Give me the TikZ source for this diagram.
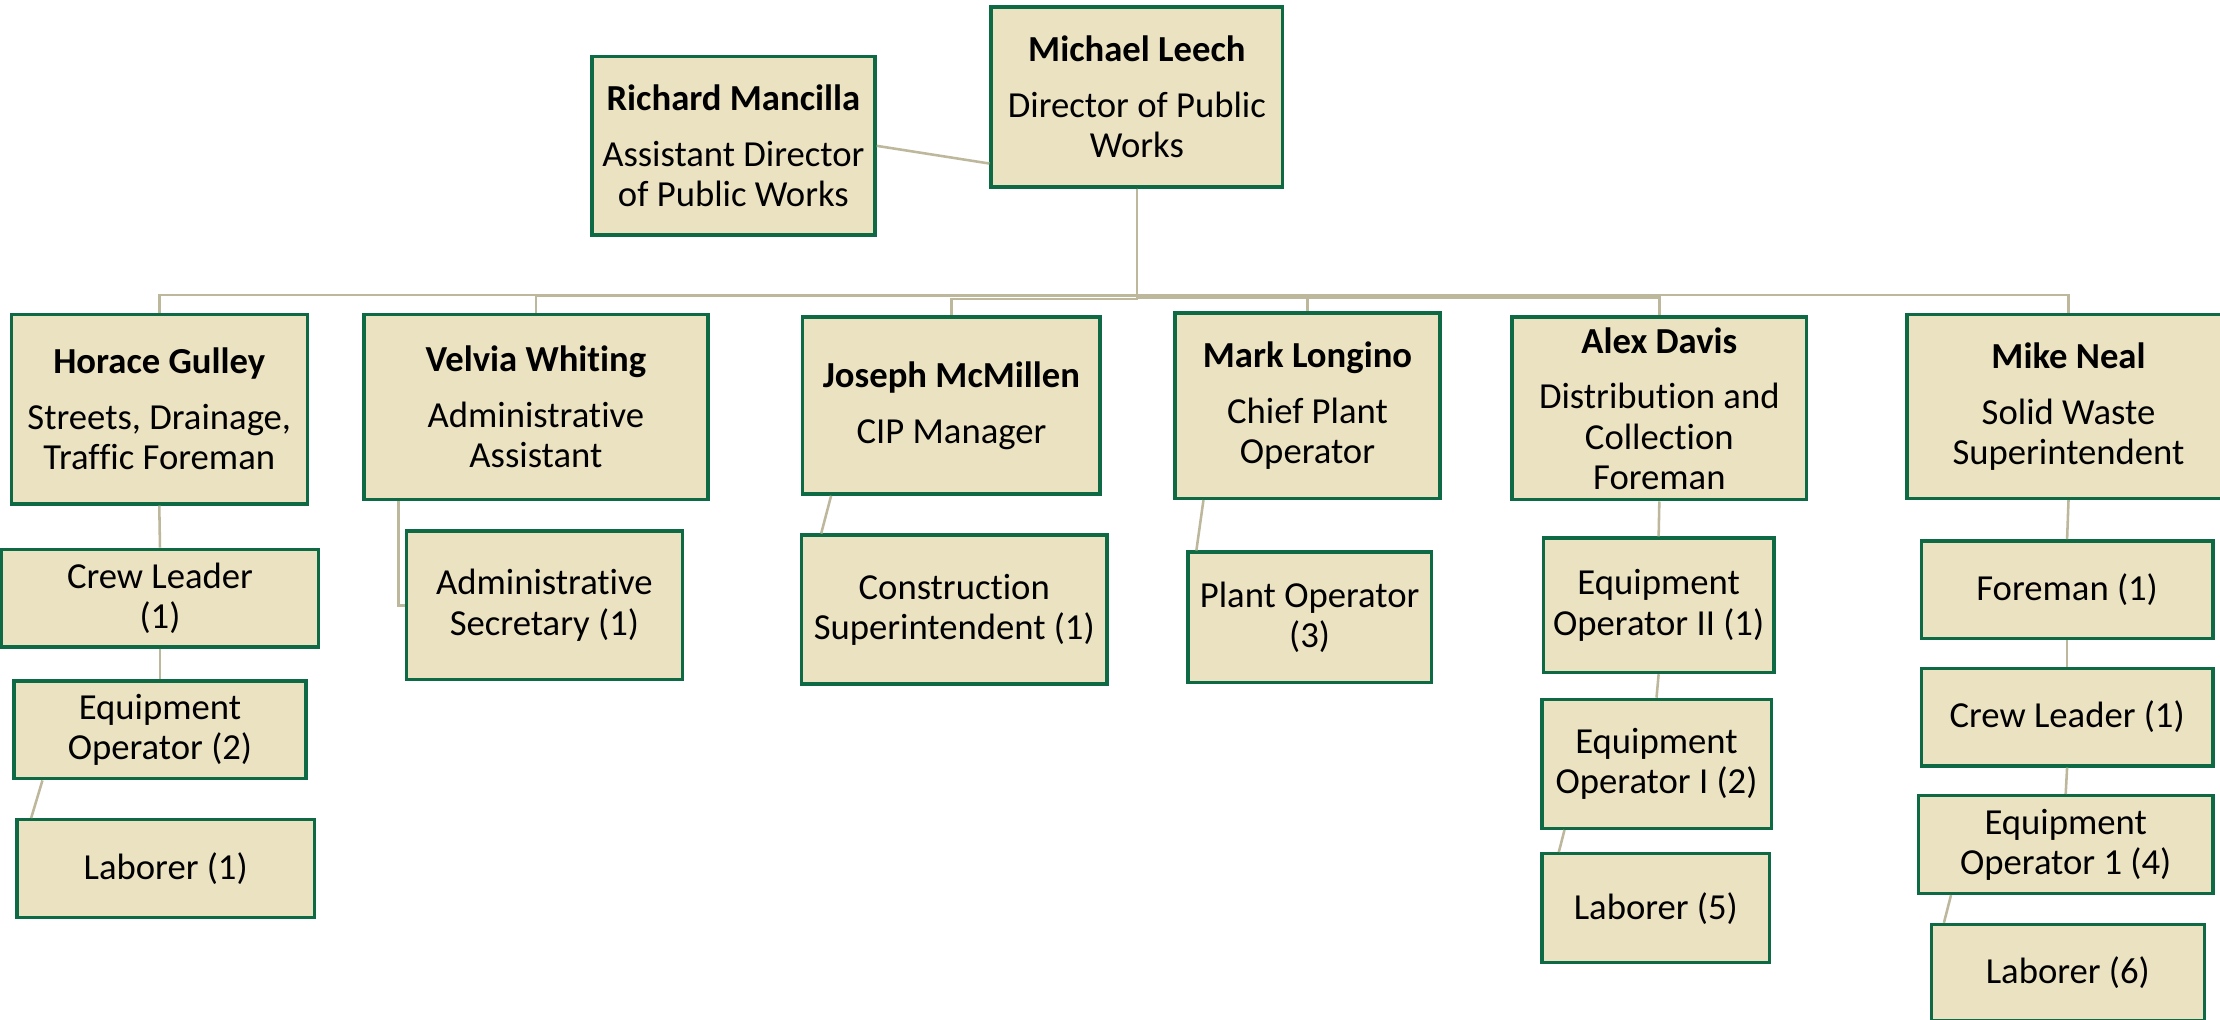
\documentclass[tikz,border=0pt]{standalone}
\usepackage{fontspec}
\setmainfont[Ligatures=NoCommon]{Carlito}
\definecolor{boxfill}{HTML}{EBE2C2}
\definecolor{boxgreen}{HTML}{0D6A45}
\definecolor{connc}{HTML}{BDB79C}
\begin{document}
\begin{tikzpicture}[x=1bp,y=-1bp,
  box/.style={draw=boxgreen, line width=2.4bp, fill=boxfill, inner sep=0pt, align=center,
    font=\fontsize{26}{28.5}\selectfont},
  conn/.style={draw=connc, line width=1.8bp}]
\fill[white] (0,0) rectangle (1568,720);
\useasboundingbox (0,0) rectangle (1568,720);
% level 1
\node[box, minimum width=206bp, minimum height=127bp] (mich) at (803,68.5) {\textbf{Michael Leech}\\[11bp]Director of Public\\Works};
\node[box, minimum width=200bp, minimum height=126bp] (rich) at (518,103) {\textbf{Richard Mancilla}\\[11bp]Assistant Director\\of Public Works};
% level 2
\node[box, minimum width=209bp, minimum height=134bp] (hor) at (112.5,289) {\textbf{Horace Gulley}\\[11bp]Streets, Drainage,\\Traffic Foreman};
\node[box, minimum width=243bp, minimum height=131bp] (vel) at (378.5,287.5) {\textbf{Velvia Whiting}\\[11bp]Administrative\\Assistant};
\node[box, minimum width=210bp, minimum height=125bp] (jos) at (672,286.5) {\textbf{Joseph McMillen}\\[11bp]CIP Manager};
\node[box, minimum width=187bp, minimum height=131bp] (mark) at (923.5,286.5) {\textbf{Mark Longino}\\[11bp]Chief Plant\\Operator};
\node[box, minimum width=208bp, minimum height=129bp] (alex) at (1172,288.5) {\textbf{Alex Davis}\\[11bp]Distribution and\\Collection\\Foreman};
\node[box, minimum width=228bp, minimum height=130bp] (mike) at (1461,287) {\textbf{Mike Neal}\\[11bp]Solid Waste\\Superintendent};
% level 3
\node[box, minimum width=224bp, minimum height=69bp] (crewL) at (113,422.5) {Crew Leader\\(1)};
\node[box, minimum width=206bp, minimum height=69bp] (eqop2) at (113,515.5) {Equipment\\Operator (2)};
\node[box, minimum width=210bp, minimum height=69bp] (lab1) at (117,613.5) {Laborer (1)};
\node[box, minimum width=195bp, minimum height=105bp] (adsec) at (384.5,427.5) {Administrative\\Secretary (1)};
\node[box, minimum width=216bp, minimum height=105bp] (consup) at (674,430.5) {Construction\\Superintendent (1)};
\node[box, minimum width=172bp, minimum height=92bp] (plantop) at (925,436) {Plant Operator\\(3)};
\node[box, minimum width=163bp, minimum height=95bp] (eqopII) at (1171.5,427.5) {Equipment\\Operator II (1)};
\node[box, minimum width=162bp, minimum height=91bp] (eqopI) at (1170,539.5) {Equipment\\Operator I (2)};
\node[box, minimum width=161bp, minimum height=77bp] (lab5) at (1169.5,641.5) {Laborer (5)};
\node[box, minimum width=206bp, minimum height=69bp] (fore) at (1460,416.5) {Foreman (1)};
\node[box, minimum width=206bp, minimum height=69bp] (crewR) at (1460,506.5) {Crew Leader (1)};
\node[box, minimum width=208bp, minimum height=69bp] (eqop14) at (1459,596.5) {Equipment\\Operator 1 (4)};
\node[box, minimum width=193bp, minimum height=68bp] (lab6) at (1460.5,687) {Laborer (6)};
% connectors
\draw[conn] (rich.east) -- ([yshift=-47bp]mich.west);
\draw[conn] (mich.south) -- ++(0,75) -| (hor.north);
\draw[conn] (mich.south) -- ++(0,75.5) -| (vel.north);
\draw[conn] (mich.south) -- ++(0,78) -| (jos.north);
\draw[conn] (mich.south) -- ++(0,76) -| (mark.north);
\draw[conn] (mich.south) -- ++(0,77) -| (alex.north);
\draw[conn] (mich.south) -- ++(0,75) -| (mike.north);
\draw[conn] (hor.south) -- (crewL.north);
\draw[conn] (crewL.south) -- (eqop2.north);
\draw[conn] ([xshift=-83bp]eqop2.south) -- ([xshift=-95bp]lab1.north);
\draw[conn] ([xshift=-97bp]vel.south) |- (adsec.west);
\draw[conn] ([xshift=-85bp]jos.south) -- ([xshift=-94bp]consup.north);
\draw[conn] ([xshift=-73.5bp]mark.south) -- ([xshift=-80bp]plantop.north);
\draw[conn] (alex.south) -- (eqopII.north);
\draw[conn] (eqopII.south) -- (eqopI.north);
\draw[conn] ([xshift=-65bp]eqopI.south) -- ([xshift=-68.5bp]lab5.north);
\draw[conn] (mike.south) -- (fore.north);
\draw[conn] (fore.south) -- (crewR.north);
\draw[conn] (crewR.south) -- (eqop14.north);
\draw[conn] ([xshift=-81bp]eqop14.south) -- ([xshift=-87.5bp]lab6.north);
\end{tikzpicture}
\end{document}
